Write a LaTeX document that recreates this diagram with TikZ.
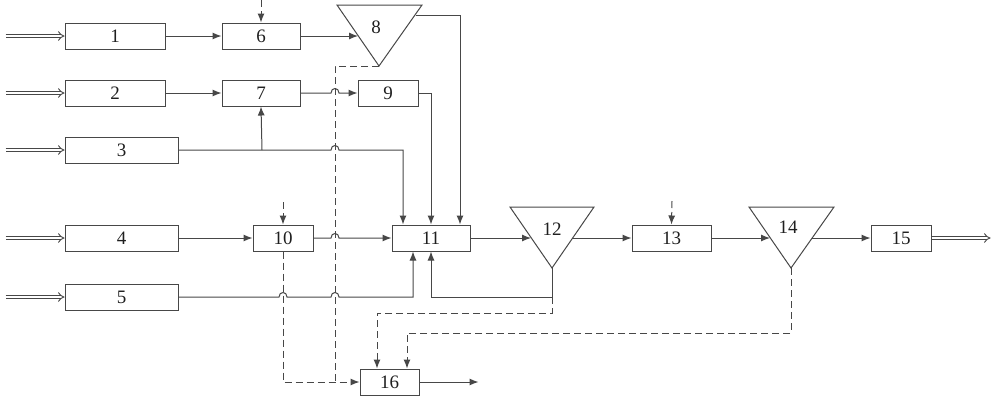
\documentclass[tikz,border=0pt]{standalone}
\usepackage{fontspec}
\setmainfont{Liberation Serif}
\usetikzlibrary{arrows.meta}
\begin{document}
\begin{tikzpicture}[x=1pt,y=-1pt,
  line width=1pt, color=black!72,
  box/.style={draw, inner sep=0pt, minimum height=26pt, text=black!88,
    font=\fontsize{19}{19}\selectfont},
  lbl/.style={inner sep=0pt, text=black!88, font=\fontsize{19}{19}\selectfont},
  arr/.style={-{Latex[length=9pt,width=7pt]}},
  dsh/.style={dash pattern=on 7pt off 4pt},
  inarr/.style={double=white, double distance=2.4pt, line width=0.9pt, -{Implies[length=5pt]}},
]
\useasboundingbox (0,0) rectangle (993,400);

% boxes
\node[box, minimum width=100pt] (b1) at (115,36) {1};
\node[box, minimum width=100pt] (b2) at (115,93) {2};
\node[box, minimum width=113pt] (b3) at (121.5,150) {3};
\node[box, minimum width=113pt] (b4) at (121.5,238) {4};
\node[box, minimum width=113pt] (b5) at (121.5,297) {5};
\node[box, minimum width=78pt] (b6) at (261,36) {6};
\node[box, minimum width=78pt] (b7) at (261,93) {7};
\node[box, minimum width=60pt] (b9) at (388,93) {9};
\node[box, minimum width=60pt] (b10) at (283,238) {10};
\node[box, minimum width=78pt] (b11) at (431,238) {11};
\node[box, minimum width=79pt] (b13) at (671.5,238) {13};
\node[box, minimum width=60pt] (b15) at (901,238) {15};
\node[box, minimum width=59pt] (b16) at (389.5,382) {16};

% triangles
\coordinate (t8a) at (337,5); \coordinate (t8b) at (422,5); \coordinate (t8c) at (379,66);
\draw (t8a) -- (t8b) -- (t8c) -- cycle;
\node[lbl] (l8) at (376,27) {8};
\coordinate (t8in) at (358,36); \coordinate (t8out) at (415.5,15);

\coordinate (t12a) at (510,207); \coordinate (t12b) at (594,207); \coordinate (t12c) at (552,268);
\draw (t12a) -- (t12b) -- (t12c) -- cycle;
\node[lbl] (l12) at (552,229) {12};
\coordinate (t12in) at (531,238); \coordinate (t12out) at (572.7,238);

\coordinate (t14a) at (749,207); \coordinate (t14b) at (834,207); \coordinate (t14c) at (791,268);
\draw (t14a) -- (t14b) -- (t14c) -- cycle;
\node[lbl] (l14) at (788,227) {14};
\coordinate (t14in) at (770,238); \coordinate (t14out) at (812,238);

% input / output double arrows
\foreach \n in {b1,b2,b3,b4,b5}
  \draw[inarr] ([xshift=-59pt]\n.west) -- (\n.west);
\draw[inarr] (b15.east) -- ++(59,0);

% solid connectors
\draw[arr] (b1.east) -- (b6.west);
\draw[arr] (b6.east) -- (t8in);
\draw[arr] (b2.east) -- (b7.west);
\draw[arr] (b7.east) -- (331,93) .. controls (331,87) and (339,87) .. (339,93) -- (b9.west);
\draw[arr] (b3.east) -- (331,150) .. controls (331,144) and (339,144) .. (339,150)
   -- (403,150) -- ([xshift=-28pt]b11.north);
\coordinate (br3) at (262,150);
\draw[arr] (br3) -- (b7.south);
\draw[arr] (t8out) -- (460,15) -- ([xshift=29pt]b11.north);
\draw[arr] (b9.east) -- (431,93) -- (b11.north);
\draw[arr] (b4.east) -- (b10.west);
\draw[arr] (b10.east) -- (331,238) .. controls (331,232) and (339,232) .. (339,238) -- (b11.west);
\draw[arr] (b5.east) -- (279,297) .. controls (279,291) and (287,291) .. (287,297)
   -- (331,297) .. controls (331,291) and (339,291) .. (339,297)
   -- (413,297) -- ([xshift=-18pt]b11.south);
\draw[arr] (b11.east) -- (t12in);
\draw[arr] (t12out) -- (b13.west);
\draw[arr] (b13.east) -- (t14in);
\draw[arr] (t14out) -- (b15.west);
\draw[arr] (t12c) -- (552,297) -- (431,297) -- (b11.south);
\draw[arr] (b16.east) -- ++(59,0);

% dashed connectors
\draw[dsh] (t8c) -- (335,66) -- (335,382);
\draw[dsh,arr] (552,297) -- (552,313) -| ([xshift=-12.5pt]b16.north);
\draw[dsh,arr] (t14c) -- (791,333) -| ([xshift=17.5pt]b16.north);
\draw[dsh,arr] (b10.south) -- (283,382) -- (b16.west);
\draw[dsh,arr] (261,0) -- (b6.north);
\draw[dsh,arr] (283,202) -- (b10.north);
\draw[dsh,arr] (672,201) -- (b13.north);
\end{tikzpicture}
\end{document}
